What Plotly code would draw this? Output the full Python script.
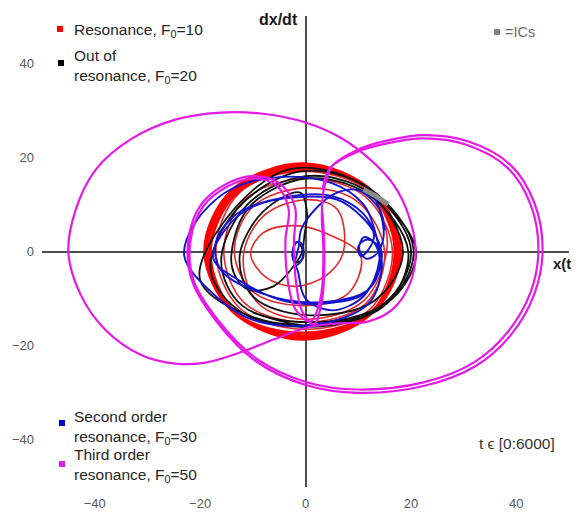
import plotly.graph_objects as go

# ---------------- data (x(t), dx/dt) ----------------
# Resonance, F0=10 : transient (thin) part
red_thin_x = [13.5, 15.5, 11, 0, -9, -11.8, -8, 0, 6,
              7.2, 4, -2, -7.5, -10.4, -8, -2, 4,
              10.5, 8, -1, -10, -13.5, -10, 0, 10,
              15, 11.5, 0, -11.5, -15.5, -11.5, 0, 11.5,
              16.5, 12, -0.5, -12.5, -17, -12.5, -0.5, 12, 17.5]
red_thin_y = [11, 1, -10.5, -14.4, -11, -1, 7.5, 11, 9,
              0, -5, -7.4, -5.5, -0.5, 4, 5.5, 3.8,
              -1, -9, -11.5, -8.5, 0, 9.5, 13.5, 10.5,
              0, -11, -15, -11, 0, 11, 15.5, 11.5,
              0, -12.5, -16.5, -12, 0, 12.5, 17, 12.8, 0]
# Resonance, F0=10 : steady orbit (thick)
red_thick_x = [17.5, 12.6, -0.5, -13.5, -18.7, -13.5, -0.5, 12.6,
               18.0, 13.0, -0.2, -13.2, -18.1, -13.1, -0.8, 12.2,
               17.0, 12.3, -0.7, -13.9, -19.1, -13.9, -0.3, 12.9, 17.5]
red_thick_y = [0, -12.8, -18, -12.8, 0, 12.8, 18, 12.8,
               0.3, -12.6, -17.3, -13.1, -0.3, 12.4, 17.4, 13.2,
               -0.2, -13.3, -18.6, -12.6, 0.2, 13, 18.6, 12.5, 0]

# Out of resonance, F0=20
black_x = [15.5, 21, 16.5, 3, -11, -20, -15, -3, 11,
           20, 15, 1, -12, -16, -11, 0, 12,
           18.5, 13, 0, -10, -12.5, -8, -1, 0.3, -0.2,
           -0.4, -0.5, -1.8, -2.4, -1.6, -0.6, -2.3, -6.1, -11, -14, -11, 0, 12,
           19.5, 15, 1, -12, -18, -13, -1, 12, 20.5, 15.5, 2, -10]
black_y = [10, 0, -10, -15.5, -13.5, -6, 7, 17.5, 14,
           0.5, -11, -15, -11.5, -2, 10, 16, 12.5,
           0, -10.5, -13.5, -9.5, -1, 8.5, 12.5, 8, 3.5,
           1.2, -1.5, -2.3, 0, 2.0, 0.3, -3.2, -7.4, -8, -3, 9, 15.5, 12,
           0, -11.5, -16, -13, -4, 9, 17, 13.5, 0.5, -11, -15.8, -13]

# Second order resonance, F0=30
blue_x = [13, 14.5, 14.8, 13.5, 11.5, 10.2, 11, 12.5, 13.5,
          14, 11, 4, -4, -12, -17.5, -15, -10, -2, 6, 11, 13.5,
          14.5, 12, 2, -8, -16, -17, -13, -4, 5, 11, 13,
          12, 10.5, 10, 11.5, 13.5,
          14.5, 12, 2, -10, -18, -23, -21, -14.5, -5, 5, 11, 13,
          14, 11, 5, 0, -1.5, -2.5, -1.8, -0.6, -0.8, -2,
          -1.3, -0.8, 2.3, 6, 10, 14, 15]
blue_y = [12, 7, 3, -0.5, -1.5, 0.5, 3, 2.5, 1,
          -3, -9, -11, -10.5, -6.5, -1.5, 5, 9.5, 11.5, 11, 7, 3,
          -1, -8, -10.8, -9, -4, 2, 8, 11.5, 11.8, 8, 3.5,
          0.5, -1, 1, 2.5, 1.5,
          -3, -11, -15.5, -14.5, -8.5, -1, 6, 13, 15.8, 14.5, 10, 5,
          -2, -9.5, -12.5, -10, -4, -1, 2, 1.5, -2, -3,
          1, 4.7, 9.5, 12.5, 13, 9, 4.5]

# Third order resonance, F0=50 (traced strokes, None = pen up)
mag_x = [-45.0, -43.6, -39.8, -33.2, -24.7, -16.1, -8.5, 0, 6.6, 12.3, 16.7, 19.5, 20.9,
         19.9, 16.5, 11.8, 5.7, 0.4, -6.1, -12.3, -19.0, -24.7, -31.3, -38.0, -42.7, -45.0, None,
         3.2, 4.7, 9.9, 15.2, 22.4, 30.4, 38.3, 42.7, 44.2, 42.7, 38.3, 31.9, 22.4, 9.9, 0.4,
         -9.1, -16.7, -21.3, -21.8, -19.4, -14.8, -9.9, -5.5, -3.2, -3.8, -3.4, -1.9, 0.9,
         2.8, 3.4, 3.1, 3.5, 5.2, 10.3, 15.6, 22.6, 30.8, 38.9, 43.4, 45.0, 43.4, 38.9, 32.3,
         22.6, 10.0, 0.2, -9.4, -17.0, -21.6, -22.2, -19.8, -15.1, -10.1, -5.0, -2.0, -2.2,
         -1.8, -0.6, 1.6, 3.1, 3.6, 3.2]
mag_y = [-0.2, 8.9, 17.4, 23.8, 28.0, 29.5, 29.3, 27.4, 24.2, 19.5, 14.2, 7.9, 0.4,
         -6.6, -12.3, -14.9, -15.3, -16.1, -18.7, -21.4, -23.6, -23.8, -21.9, -16.6, -9.1, -0.2, None,
         13.0, 17.8, 21.2, 22.9, 24.0, 22.7, 17.8, 10.0, 0.4, -8.7, -17.2, -23.6, -27.8, -29.3, -27.8,
         -22.9, -14.4, -5.9, 2.5, 9.6, 13.8, 15.5, 14.0, 9.0, 2.5, -5.9, -12.3, -14.9,
         -10.2, -0.6, 7.9, 13.3, 18.3, 21.8, 23.6, 24.7, 23.4, 18.4, 10.4, 0.5, -9.1, -17.8, -24.3,
         -28.5, -30.0, -28.4, -23.3, -14.7, -6.0, 2.7, 10.0, 14.3, 16.0, 14.5, 9.5, 2.0,
         -6.5, -12.8, -15.5, -10.5, -0.5, 8.3]

# initial conditions
ic_x = [11, 13.3, 15.7]
ic_y = [13.2, 11.8, 10.0]

tick_vals = [-40, -20, 0, 20, 40]

FONT = "Liberation Sans, Arial, sans-serif"
fig = go.Figure()


def add(x, y, color, width):
    fig.add_trace(go.Scatter(x=x, y=y, mode="lines", showlegend=False, hoverinfo="skip",
                             line=dict(color=color, width=width, shape="spline")))


add(red_thin_x, red_thin_y, "#e02a2a", 1.6)
add(red_thick_x, red_thick_y, "#ff0000", 3.2)
add(black_x, black_y, "#111111", 1.8)
add(blue_x, blue_y, "#1414cc", 1.9)
add(mag_x, mag_y, "#e619e6", 2.2)
fig.add_trace(go.Scatter(x=ic_x, y=ic_y, mode="lines", showlegend=False, hoverinfo="skip",
                         line=dict(color="#8c8c8c", width=5)))

axis_common = dict(range=[-50, 50], tickvals=tick_vals, showgrid=False, showline=False,
                   zeroline=True, zerolinecolor="#4d4d4d", zerolinewidth=1.5, ticks="",
                   automargin=False,
                   tickfont=dict(family=FONT, size=13, color="#595959"), fixedrange=True)
fig.update_xaxes(**axis_common, ticklabelstandoff=7)
fig.update_yaxes(**axis_common, ticklabelstandoff=7)

# legend squares (positions in page pixels -> paper fractions)
sq = [
    (57, 63, 26, 32, "#ff0000"),
    (58, 64, 60, 66, "#000000"),
    (59, 65, 420, 426, "#0000cc"),
    (59, 65, 461, 467, "#e619e6"),
    (494, 500, 29, 35, "#808080"),
]
for x0, x1, y0, y1, c in sq:
    fig.add_shape(type="rect", xref="paper", yref="paper",
                  x0=(x0 - 42) / 527, x1=(x1 - 42) / 527,
                  y0=(487 - y1) / 471, y1=(487 - y0) / 471,
                  fillcolor=c, line=dict(width=0))

txt = dict(family=FONT, size=15.5, color="#262626")
ann = [
    ("Resonance, F<sub>0</sub>=10", 72, 31, "left", txt),
    ("Out of<br>resonance, F<sub>0</sub>=20", 72, 67, "left", txt),
    ("Second order<br>resonance, F<sub>0</sub>=30", 72, 427.5, "left", txt),
    ("Third order<br>resonance, F<sub>0</sub>=50", 72, 465.5, "left", txt),
    ("=ICs", 503, 32, "left", dict(family=FONT, size=14.5, color="#6b6b6b")),
    ("t ϵ [0:6000]", 477, 443, "left", dict(family=FONT, size=15.5, color="#333333")),
    ("<b>dx/dt</b>", 300, 19, "right", dict(family=FONT, size=16, color="#1a1a1a")),
    ("<b>x(t)</b>", 578, 263, "right", dict(family=FONT, size=15, color="#1a1a1a")),
]
for t, px, py, xa, f in ann:
    fig.add_annotation(text=t, xref="paper", yref="paper", x=(px - 42) / 527, y=(487 - py) / 471,
                       xanchor=xa, yanchor="middle", align="left", showarrow=False, font=f)

# the page body adds an 8px offset, so the figure is 8px smaller with 8px less left/top margin
fig.update_layout(width=571, height=508, margin=dict(l=34, r=10, t=8, b=29),
                  plot_bgcolor="white", paper_bgcolor="white", showlegend=False)

fig.write_html("out.html")
